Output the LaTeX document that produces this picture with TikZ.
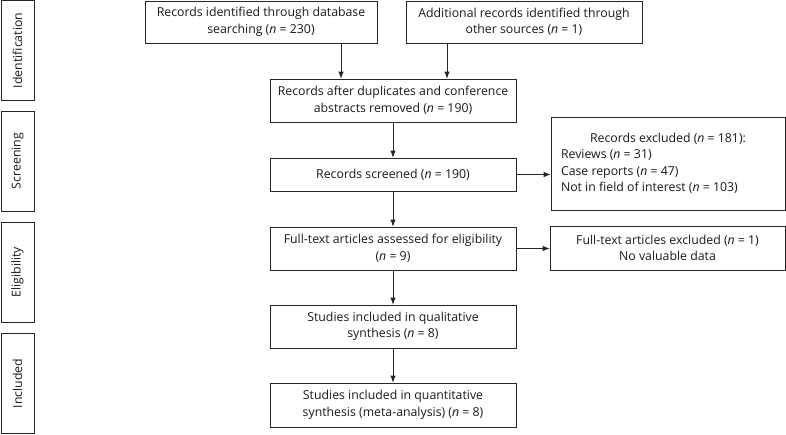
\documentclass[tikz,border=0pt]{standalone}
\usepackage{fontspec}
\setmainfont{Open Sans}
\usetikzlibrary{arrows.meta}
\newcommand{\fs}{\fontsize{12.3}{16.5}\selectfont}
\begin{document}
\begin{tikzpicture}[x=1pt,y=-1pt,
  box/.style={draw=black!85, line width=0.8pt, inner sep=0pt, align=center,
    font=\fs, text=black!90},
  side/.style={box, rotate=90, minimum width=100pt, minimum height=33pt},
  arr/.style={draw=black!85, line width=0.8pt, -{Latex[length=7pt,width=5.5pt]}}]
\useasboundingbox (0,0) rectangle (786,434);
% side labels
\node[side] (sid) at (17.5,50.5) {Identification};
\node[side] (ssc) at (17.5,161) {Screening};
\node[side] (sel) at (17.5,272) {Eligibility};
\node[side] (sin) at (17.5,383.5) {Included};
% main boxes
\node[box, minimum width=232pt, minimum height=42pt] (b1) at (261,22) {Records identified through database\\searching (\textit{n} = 230)};
\node[box, minimum width=236pt, minimum height=42pt] (b2) at (524,22) {Additional records identified through\\other sources (\textit{n} = 1)};
\node[box, minimum width=246pt, minimum height=43pt] (b3) at (393,100.5) {Records after duplicates and conference\\abstracts removed (\textit{n} = 190)};
\node[box, minimum width=246pt, minimum height=33pt] (b4) at (393,174.5) {Records screened (\textit{n} = 190)};
\node[box, minimum width=246pt, minimum height=43pt] (b5) at (393,248.5) {Full-text articles assessed for eligibility\\(\textit{n} = 9)};
\node[box, minimum width=246pt, minimum height=43pt] (b6) at (393,326.5) {Studies included in qualitative\\synthesis (\textit{n} = 8)};
\node[box, minimum width=246pt, minimum height=44pt] (b7) at (393,405) {Studies included in quantitative\\synthesis (meta-analysis) (\textit{n} = 8)};
\node[box, minimum width=234pt, minimum height=93pt, align=left] (e1) at (668,163.5) {\begin{minipage}{214pt}\fs{\centering Records excluded (\textit{n} = 181):\par}\raggedright Reviews (\textit{n} = 31)\\Case reports (\textit{n} = 47)\\Not in field of interest (\textit{n} = 103)\end{minipage}};
\node[box, minimum width=235pt, minimum height=44pt] (e2) at (667.5,248) {Full-text articles excluded (\textit{n} = 1)\\No valuable data};
% connectors
\coordinate (c1) at (341,0);
\coordinate (c2) at (447,0);
\draw[arr] (b1.south -| c1) -- (b3.north -| c1);
\draw[arr] (b2.south -| c2) -- (b3.north -| c2);
\draw[arr] (b3) -- (b4);
\draw[arr] (b4) -- (b5);
\draw[arr] (b5) -- (b6);
\draw[arr] (b6) -- (b7);
\draw[arr] (b4.east) -- (e1.west |- b4.east);
\draw[arr] (b5.east) -- (e2.west |- b5.east);
\end{tikzpicture}
\end{document}
